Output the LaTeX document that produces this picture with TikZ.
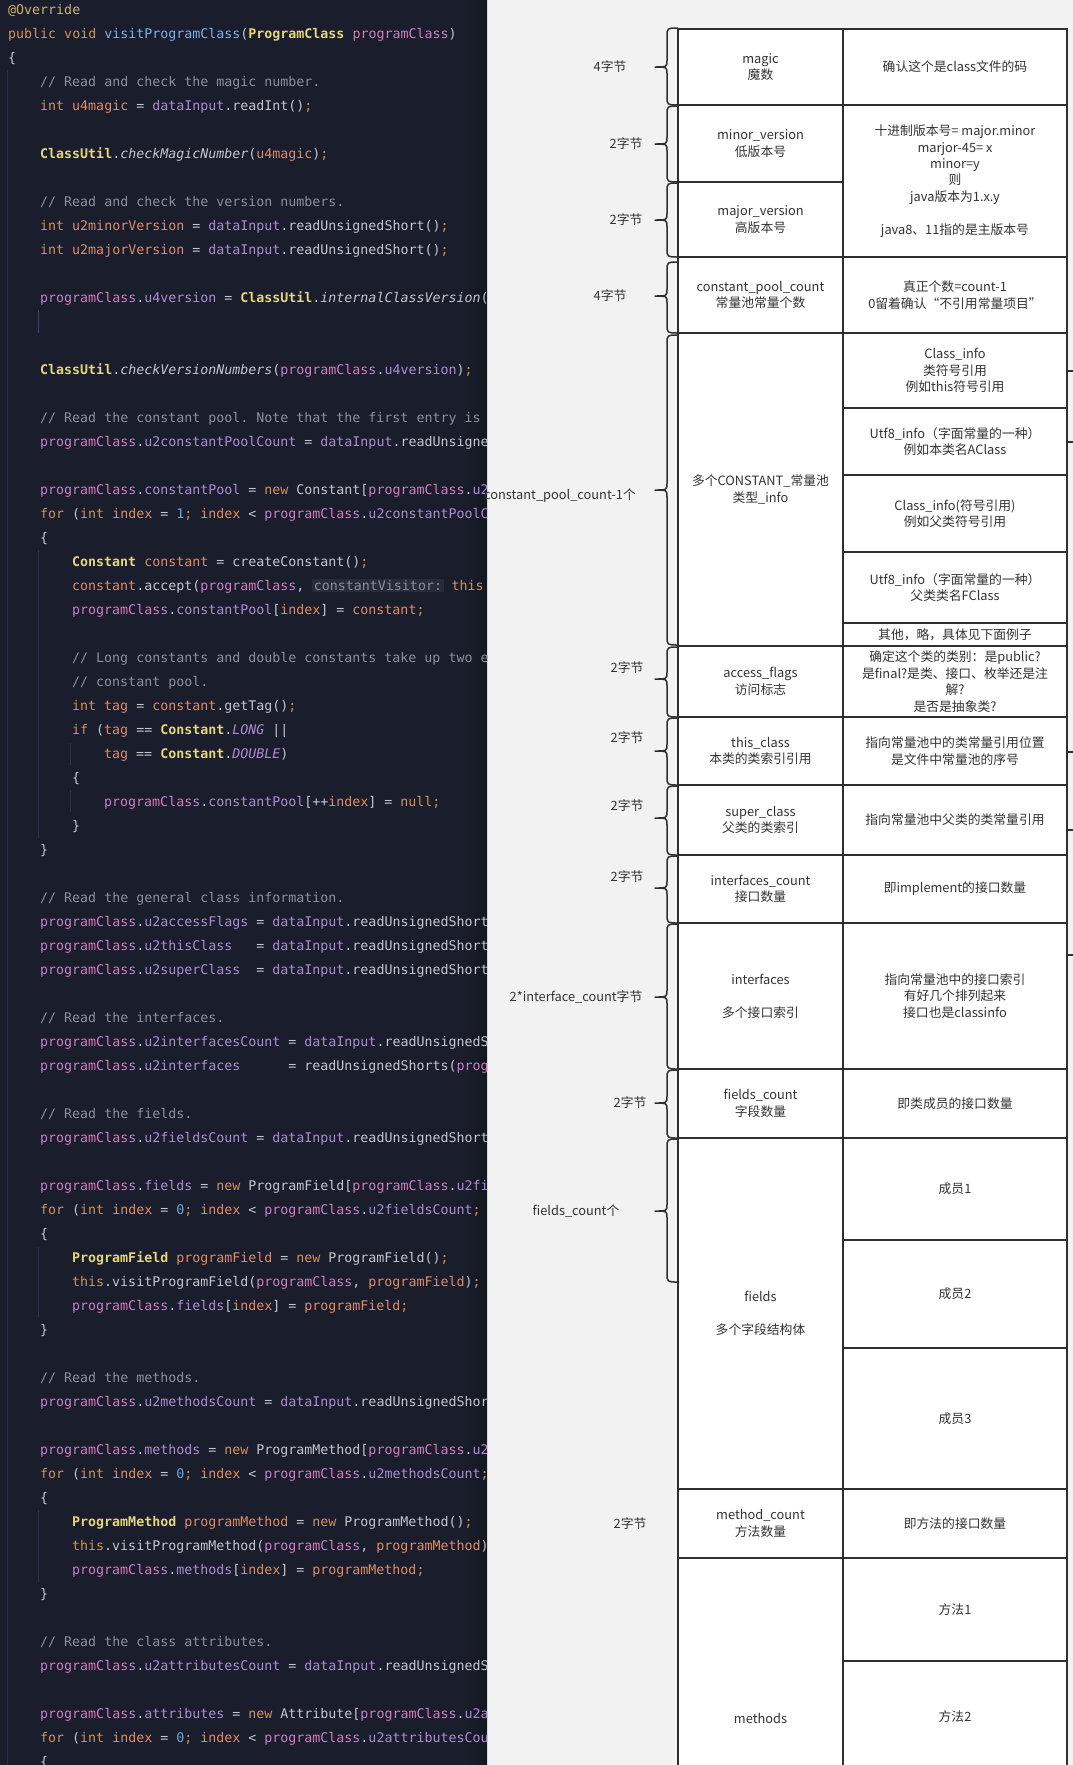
\documentclass[tikz,border=0pt]{standalone}
\usepackage{fontspec}
\setmonofont{DejaVu Sans Mono}
\newfontfamily\cjk{Noto Sans CJK SC}

% colours of the editor panel
\definecolor{codebg}{HTML}{1A1E2C}
\definecolor{codeedge}{HTML}{141722}
\definecolor{codeplain}{HTML}{C3C6CD}
\definecolor{ckey}{HTML}{D0925F}
\definecolor{clocal}{HTML}{DE8B6C}
\definecolor{ctype}{HTML}{E2D67E}
\definecolor{cparam}{HTML}{CC7FC3}
\definecolor{cfield}{HTML}{AE8BD0}
\definecolor{cmethod}{HTML}{7FB0E6}
\definecolor{ccomment}{HTML}{8C909A}
\definecolor{cnum}{HTML}{6EA6DF}
\definecolor{cann}{HTML}{CBB26D}
\definecolor{hintbg}{HTML}{272C3A}
\definecolor{guideline}{HTML}{2B3149}
\definecolor{caretline}{HTML}{3A4266}
% colours of the table
\definecolor{lightbg}{HTML}{F2F2F2}
\definecolor{tabline}{HTML}{2F2F2F}
\definecolor{tabtext}{HTML}{333333}

\newcommand\codefont{\ttfamily\fontsize{13.3}{16}\selectfont}
\newcommand\tabfont{\cjk\fontsize{12.8}{16.4}\selectfont}

% syntax colouring
\newcommand\jkw[1]{\textcolor{ckey}{#1}}
\newcommand\jty[1]{\textcolor{ctype}{\bfseries #1}}
\newcommand\jpa[1]{\textcolor{cparam}{#1}}
\newcommand\jfd[1]{\textcolor{cfield}{#1}}
\newcommand\jlv[1]{\textcolor{clocal}{#1}}
\newcommand\jcm[1]{\textcolor{ccomment}{#1}}
\newcommand\jnum[1]{\textcolor{cnum}{#1}}
\newcommand\jmd[1]{\textcolor{cmethod}{#1}}
\newcommand\jit[1]{\textit{#1}}
\newcommand\jst[1]{\textcolor{cfield}{\itshape #1}}
\newcommand\jsm{\textcolor{ckey}{;}}
\newcommand\jhint[1]{{\setlength\fboxsep{1.5pt}\colorbox{hintbg}{\textcolor{ccomment}{#1}}}}

% one line of code: line number, indent level, text
\newcommand\codeline[3]{\node[codeline] (code#1) at ({8+32*#2},{14.5+24*#1}) {#3};}

% one table cell: name, x1, y1, x2, y2, text
\newcommand\cellbox[6]{%
  \draw[cell] (#2,#3) rectangle (#4,#5);
  \node[celltext] (#1) at ({(#2+#4)/2},{(#3+#5)/2}) {#6};}

% curly bracket left of the table: top, bottom, tip
\newcommand\bytebrace[3]{%
  \draw[bracket] (678,#1) .. controls (667,#1) .. (667,{#1+9})
    -- (667,{#3-7}) .. controls (667,#3) .. (655,#3)
    .. controls (667,#3) .. (667,{#3+7})
    -- (667,{#2-9}) .. controls (667,#2) .. (678,#2);}

\begin{document}
\begin{tikzpicture}[x=1pt, y=-1pt,
    codeline/.style={anchor=base west, inner sep=0pt, font=\codefont, text=codeplain},
    guide/.style={draw=guideline, line width=1pt},
    cell/.style={draw=tabline, fill=white, line width=1.6pt},
    celltext/.style={align=center, inner sep=0pt, font=\tabfont, text=tabtext},
    bytelabel/.style={inner sep=0pt, font=\tabfont, text=tabtext},
    bracket/.style={draw=tabline, line width=1.5pt, line join=round}]

    \useasboundingbox (0,0) rectangle (1073,1765);
    \clip (0,0) rectangle (1073,1765);

    % Backgrounds
    \fill[lightbg] (487,0) rectangle (1073,1765);
    \fill[codebg] (0,0) rectangle (487,1765);
    \shade[left color=codebg, right color=codeedge] (462,0) rectangle (487,1765);

    % Editor panel
    \begin{scope}
        \clip (0,0) rectangle (487,1765);

        % indent guides and caret
        \draw[guide] (7,70) -- (7,1765);
        \draw[guide] (38,550) -- (38,838);
        \draw[guide] (70,743) -- (70,765);
        \draw[guide] (70,790) -- (70,812);
        \draw[guide] (38,1247) -- (38,1317);
        \draw[guide] (38,1510) -- (38,1582);
        \draw[draw=caretline, line width=1pt] (38,310) -- (38,333);

        \codeline{0}{0}{\textcolor{cann}{@Override}}
        \codeline{1}{0}{\jkw{public void} \jmd{visitProgramClass}(\jty{ProgramClass} \jpa{programClass})}
        \codeline{2}{0}{\{}
        \codeline{3}{1}{\jcm{// Read and check the magic number.}}
        \codeline{4}{1}{\jkw{int} \jlv{u4magic} = \jfd{dataInput}.readInt()\jsm}
        \codeline{6}{1}{\jty{ClassUtil}.\jit{checkMagicNumber}(\jlv{u4magic})\jsm}
        \codeline{8}{1}{\jcm{// Read and check the version numbers.}}
        \codeline{9}{1}{\jkw{int} \jlv{u2minorVersion} = \jfd{dataInput}.readUnsignedShort()\jsm}
        \codeline{10}{1}{\jkw{int} \jlv{u2majorVersion} = \jfd{dataInput}.readUnsignedShort()\jsm}
        \codeline{12}{1}{\jpa{programClass}.\jfd{u4version} = \jty{ClassUtil}.\jit{internalClassVersion}(}
        \codeline{15}{1}{\jty{ClassUtil}.\jit{checkVersionNumbers}(\jpa{programClass}.\jfd{u4version})\jsm}
        \codeline{17}{1}{\jcm{// Read the constant pool. Note that the first entry is}}
        \codeline{18}{1}{\jpa{programClass}.\jfd{u2constantPoolCount} = \jfd{dataInput}.readUnsigne}
        \codeline{20}{1}{\jpa{programClass}.\jfd{constantPool} = \jkw{new} Constant[\jpa{programClass}.\jfd{u2}}
        \codeline{21}{1}{\jkw{for} (\jkw{int} \jlv{index} = \jnum{1}\jsm{} \jlv{index} < \jpa{programClass}.\jfd{u2constantPoolC}}
        \codeline{22}{1}{\{}
        \codeline{23}{2}{\jty{Constant} \jlv{constant} = createConstant()\jsm}
        \codeline{24}{2}{\jlv{constant}.accept(\jpa{programClass}, \jhint{constantVisitor:} \jkw{this}}
        \codeline{25}{2}{\jpa{programClass}.\jfd{constantPool}[\jlv{index}] = \jlv{constant}\jsm}
        \codeline{27}{2}{\jcm{// Long constants and double constants take up two e}}
        \codeline{28}{2}{\jcm{// constant pool.}}
        \codeline{29}{2}{\jkw{int} \jlv{tag} = \jlv{constant}.getTag()\jsm}
        \codeline{30}{2}{\jkw{if} (\jlv{tag} == \jty{Constant}.\jst{LONG} ||}
        \codeline{31}{3}{\jlv{tag} == \jty{Constant}.\jst{DOUBLE})}
        \codeline{32}{2}{\{}
        \codeline{33}{3}{\jpa{programClass}.\jfd{constantPool}[++\jlv{index}] = \jkw{null}\jsm}
        \codeline{34}{2}{\}}
        \codeline{35}{1}{\}}
        \codeline{37}{1}{\jcm{// Read the general class information.}}
        \codeline{38}{1}{\jpa{programClass}.\jfd{u2accessFlags} = \jfd{dataInput}.readUnsignedShort}
        \codeline{39}{1}{\jpa{programClass}.\jfd{u2thisClass}~~~= \jfd{dataInput}.readUnsignedShort}
        \codeline{40}{1}{\jpa{programClass}.\jfd{u2superClass}~~= \jfd{dataInput}.readUnsignedShort}
        \codeline{42}{1}{\jcm{// Read the interfaces.}}
        \codeline{43}{1}{\jpa{programClass}.\jfd{u2interfacesCount} = \jfd{dataInput}.readUnsignedS}
        \codeline{44}{1}{\jpa{programClass}.\jfd{u2interfaces}~~~~~~= readUnsignedShorts(\jpa{prog}}
        \codeline{46}{1}{\jcm{// Read the fields.}}
        \codeline{47}{1}{\jpa{programClass}.\jfd{u2fieldsCount} = \jfd{dataInput}.readUnsignedShort}
        \codeline{49}{1}{\jpa{programClass}.\jfd{fields} = \jkw{new} ProgramField[\jpa{programClass}.\jfd{u2fi}}
        \codeline{50}{1}{\jkw{for} (\jkw{int} \jlv{index} = \jnum{0}\jsm{} \jlv{index} < \jpa{programClass}.\jfd{u2fieldsCount}\jsm}
        \codeline{51}{1}{\{}
        \codeline{52}{2}{\jty{ProgramField} \jlv{programField} = \jkw{new} ProgramField()\jsm}
        \codeline{53}{2}{\jkw{this}.visitProgramField(\jpa{programClass}, \jlv{programField})\jsm}
        \codeline{54}{2}{\jpa{programClass}.\jfd{fields}[\jlv{index}] = \jlv{programField}\jsm}
        \codeline{55}{1}{\}}
        \codeline{57}{1}{\jcm{// Read the methods.}}
        \codeline{58}{1}{\jpa{programClass}.\jfd{u2methodsCount} = \jfd{dataInput}.readUnsignedShor}
        \codeline{60}{1}{\jpa{programClass}.\jfd{methods} = \jkw{new} ProgramMethod[\jpa{programClass}.\jfd{u2}}
        \codeline{61}{1}{\jkw{for} (\jkw{int} \jlv{index} = \jnum{0}\jsm{} \jlv{index} < \jpa{programClass}.\jfd{u2methodsCount}\jsm}
        \codeline{62}{1}{\{}
        \codeline{63}{2}{\jty{ProgramMethod} \jlv{programMethod} = \jkw{new} ProgramMethod()\jsm}
        \codeline{64}{2}{\jkw{this}.visitProgramMethod(\jpa{programClass}, \jlv{programMethod})}
        \codeline{65}{2}{\jpa{programClass}.\jfd{methods}[\jlv{index}] = \jlv{programMethod}\jsm}
        \codeline{66}{1}{\}}
        \codeline{68}{1}{\jcm{// Read the class attributes.}}
        \codeline{69}{1}{\jpa{programClass}.\jfd{u2attributesCount} = \jfd{dataInput}.readUnsignedS}
        \codeline{71}{1}{\jpa{programClass}.\jfd{attributes} = \jkw{new} Attribute[\jpa{programClass}.\jfd{u2a}}
        \codeline{72}{1}{\jkw{for} (\jkw{int} \jlv{index} = \jnum{0}\jsm{} \jlv{index} < \jpa{programClass}.\jfd{u2attributesCou}}
        \codeline{73}{1}{\{}
    \end{scope}

    % Left column: items of the class file
    \cellbox{magic}{678}{29}{843}{105}{magic\\魔数}
    \cellbox{minor}{678}{105}{843}{182}{minor\_version\\低版本号}
    \cellbox{major}{678}{182}{843}{257}{major\_version\\高版本号}
    \cellbox{cpcount}{678}{257}{843}{333}{constant\_pool\_count\\常量池常量个数}
    \cellbox{cpool}{678}{333}{843}{646}{多个CONSTANT\_常量池\\类型\_info}
    \cellbox{access}{678}{646}{843}{717}{access\_flags\\访问标志}
    \cellbox{thiscls}{678}{717}{843}{785}{this\_class\\本类的类索引引用}
    \cellbox{supercls}{678}{785}{843}{855}{super\_class\\父类的类索引}
    \cellbox{ifcount}{678}{855}{843}{923}{interfaces\_count\\接口数量}
    \cellbox{ifaces}{678}{923}{843}{1069}{interfaces\\[16.4pt]多个接口索引}
    \cellbox{fdcount}{678}{1069}{843}{1138}{fields\_count\\字段数量}
    \cellbox{fields}{678}{1138}{843}{1489}{fields\\[16.4pt]多个字段结构体}
    \cellbox{mdcount}{678}{1489}{843}{1558}{method\_count\\方法数量}
    \cellbox{methods}{678}{1558}{843}{1878}{methods}

    % Right column: what each item means
    \cellbox{magicnote}{843}{29}{1067}{105}{确认这个是class文件的码}
    \cellbox{versionnote}{843}{105}{1067}{257}{十进制版本号= major.minor\\marjor-45= x\\minor=y\\则\\java版本为1.x.y\\[16.4pt]java8、11指的是主版本号}
    \cellbox{cpcountnote}{843}{257}{1067}{333}{真正个数=count-1\\0留着确认“不引用常量项目”}
    \cellbox{cpa}{843}{333}{1067}{408}{Class\_info\\类符号引用\\例如this符号引用}
    \cellbox{cpb}{843}{408}{1067}{475}{Utf8\_info（字面常量的一种）\\例如本类名AClass}
    \cellbox{cpc}{843}{475}{1067}{552}{Class\_info(符号引用)\\例如父类符号引用}
    \cellbox{cpd}{843}{552}{1067}{623}{Utf8\_info（字面常量的一种）\\父类类名FClass}
    \cellbox{cpe}{843}{623}{1067}{646}{其他，略，具体见下面例子}
    \cellbox{accessnote}{843}{646}{1067}{717}{确定这个类的类别：是public?\\是final?是类、接口、枚举还是注\\解?\\是否是抽象类?}
    \cellbox{thisnote}{843}{717}{1067}{785}{指向常量池中的类常量引用位置\\是文件中常量池的序号}
    \cellbox{supernote}{843}{785}{1067}{855}{指向常量池中父类的类常量引用}
    \cellbox{ifcountnote}{843}{855}{1067}{923}{即implement的接口数量}
    \cellbox{ifacesnote}{843}{923}{1067}{1069}{指向常量池中的接口索引\\有好几个排列起来\\接口也是classinfo}
    \cellbox{fdcountnote}{843}{1069}{1067}{1138}{即类成员的接口数量}
    \cellbox{field1}{843}{1138}{1067}{1240}{成员1}
    \cellbox{field2}{843}{1240}{1067}{1348}{成员2}
    \cellbox{field3}{843}{1348}{1067}{1489}{成员3}
    \cellbox{mdcountnote}{843}{1489}{1067}{1558}{即方法的接口数量}
    \cellbox{method1}{843}{1558}{1067}{1661}{方法1}
    \cellbox{method2}{843}{1661}{1067}{1773}{方法2}

    % stubs of the next table at the right edge
    \foreach \yy in {371,442,752,830,955}
        \draw[tabline, line width=1.2pt] (1067,\yy) -- (1073,\yy);

    % Brackets with byte sizes
    \bytebrace{28}{105}{67}
    \bytebrace{106}{182}{144}
    \bytebrace{183}{257}{220}
    \bytebrace{262}{333}{296}
    \bytebrace{335}{645}{490}
    \bytebrace{647}{717}{679}
    \bytebrace{718}{785}{751}
    \bytebrace{786}{855}{818}
    \bytebrace{856}{923}{888}
    \bytebrace{924}{1069}{997}
    \bytebrace{1070}{1138}{1103}
    \bytebrace{1139}{1282}{1211}

    \node[bytelabel] (sizemagic) at (610,67) {4字节};
    \node[bytelabel] (sizeminor) at (626,144) {2字节};
    \node[bytelabel] (sizemajor) at (626,220) {2字节};
    \node[bytelabel] (sizecpcount) at (610,296) {4字节};
    \node[bytelabel] (sizecpool) at (560,496) {constant\_pool\_count-1个};
    \node[bytelabel] (sizeaccess) at (627,668) {2字节};
    \node[bytelabel] (sizethis) at (627,738) {2字节};
    \node[bytelabel] (sizesuper) at (627,806) {2字节};
    \node[bytelabel] (sizeifcount) at (627,877) {2字节};
    \node[bytelabel] (sizeifaces) at (576,997) {2*interface\_count字节};
    \node[bytelabel] (sizefdcount) at (630,1103) {2字节};
    \node[bytelabel] (sizefields) at (576,1211) {fields\_count个};
    \node[bytelabel] (sizemdcount) at (630,1524) {2字节};

\end{tikzpicture}
\end{document}
